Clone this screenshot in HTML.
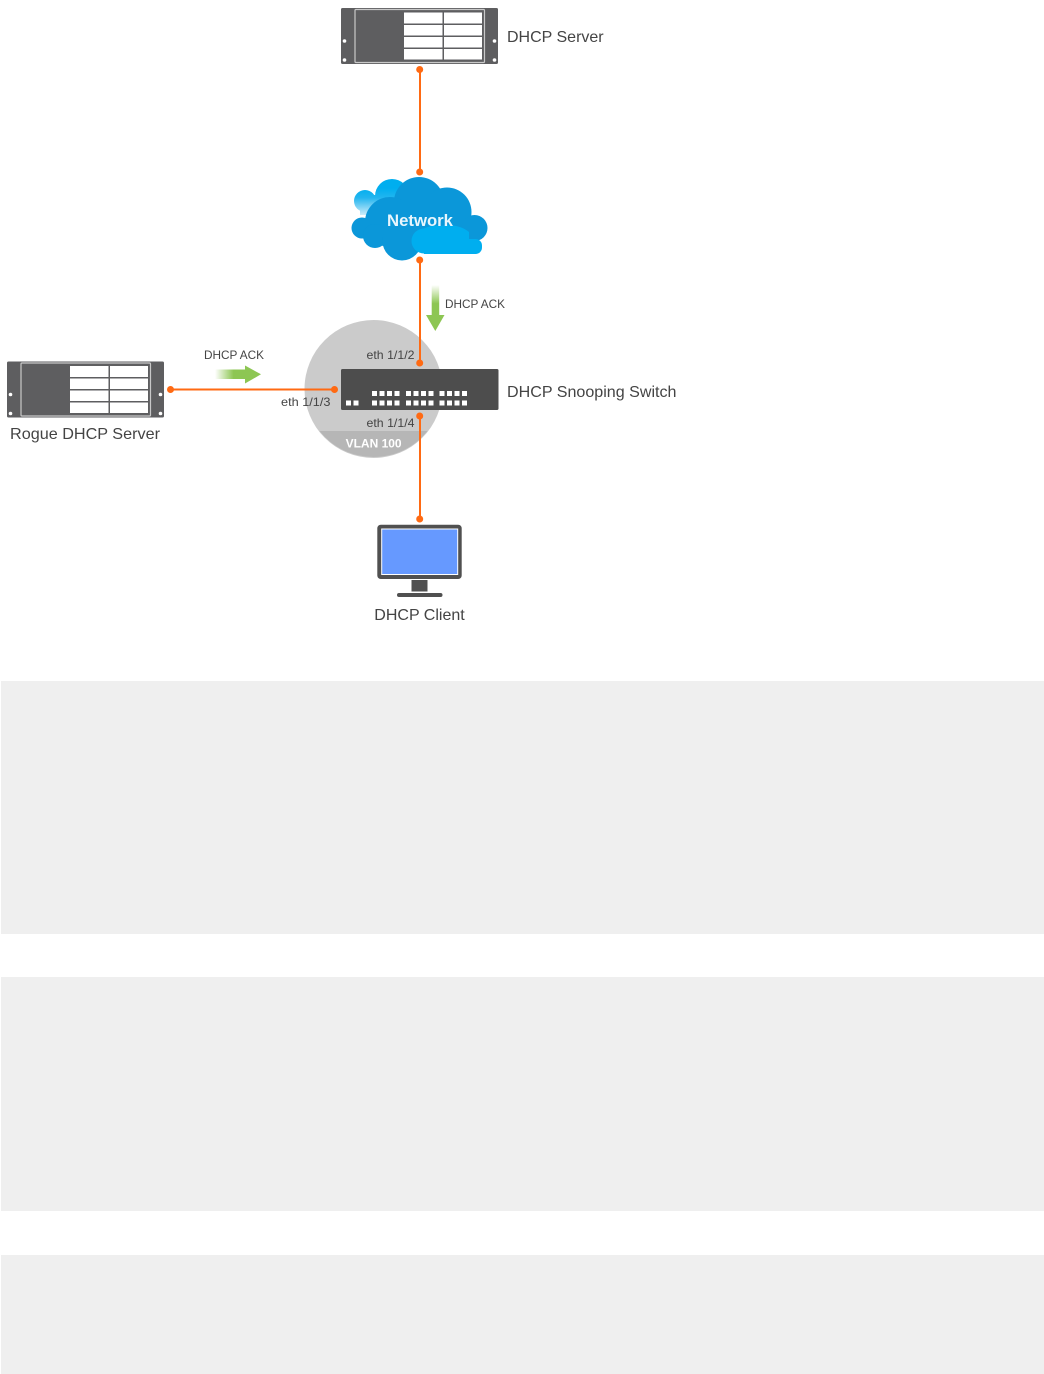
<!DOCTYPE html>
<html><head><meta charset="utf-8"><style>
html,body{margin:0;padding:0;background:#fff}
svg{display:block}
text{font-family:"Liberation Sans",sans-serif;fill:#444}
</style></head><body>
<svg width="1044" height="1374" viewBox="0 0 1044 1374" xmlns="http://www.w3.org/2000/svg">
<defs>
<linearGradient id="gd" x1="0" y1="0" x2="0" y2="1"><stop offset="0" stop-color="#8dc653" stop-opacity="0"/><stop offset=".6" stop-color="#8dc653"/></linearGradient>
<linearGradient id="gr" x1="0" y1="0" x2="1" y2="0"><stop offset="0" stop-color="#8dc653" stop-opacity="0"/><stop offset=".6" stop-color="#8dc653"/></linearGradient>
<linearGradient id="gc" gradientUnits="userSpaceOnUse" x1="0" y1="188" x2="0" y2="216"><stop offset="0" stop-color="#00aeef"/><stop offset=".35" stop-color="#22b5ef"/><stop offset="1" stop-color="#d8f0fa"/></linearGradient>
<g id="srv">
<rect x="341" y="8" width="157" height="56" rx="1.5" fill="#5e5e60"/>
<rect x="355" y="9.5" width="129.5" height="53" rx="1" fill="none" stroke="#c8c8c8" stroke-width="1.2"/>
<g fill="#fff">
<rect x="404" y="12.5" width="38.5" height="11"/><rect x="444" y="12.5" width="38" height="11"/>
<rect x="404" y="25" width="38.5" height="10.5"/><rect x="444" y="25" width="38" height="10.5"/>
<rect x="404" y="37" width="38.5" height="10.5"/><rect x="444" y="37" width="38" height="10.5"/>
<rect x="404" y="49" width="38.5" height="10.5"/><rect x="444" y="49" width="38" height="10.5"/>
<circle cx="344.5" cy="41" r="1.8"/><circle cx="344.5" cy="60" r="1.8"/>
<circle cx="494.5" cy="41" r="1.8"/><circle cx="494.5" cy="60" r="1.8"/>
</g>
</g>
</defs>

<rect x="1" y="681" width="1043" height="253" fill="#efefef"/>
<rect x="1" y="977" width="1043" height="234" fill="#efefef"/>
<rect x="1" y="1255" width="1043" height="119" fill="#efefef"/>

<!-- VLAN circle -->
<circle cx="373.5" cy="389" r="69" fill="#cbcbcb"/>
<path d="M319.5 431 H427.5 A69 69 0 0 1 319.5 431 Z" fill="#b6b6b6"/>
<text x="373.6" y="447.5" font-size="12" font-weight="bold" text-anchor="middle" style="fill:#fff">VLAN 100</text>

<!-- Servers -->
<use href="#srv"/>
<use href="#srv" x="-334" y="353.5"/>

<!-- Cloud -->
<g fill="url(#gc)">
<circle cx="365" cy="201" r="11"/><circle cx="392" cy="196" r="17"/>
<rect x="360" y="195" width="36" height="20"/>
</g>
<g fill="#0b97d9">
<circle cx="419" cy="202" r="25"/>
<circle cx="447" cy="212" r="24.5"/>
<circle cx="390" cy="222" r="25"/>
<circle cx="362" cy="228" r="10.5"/>
<circle cx="375" cy="236" r="12"/>
<circle cx="474.5" cy="228" r="13"/>
<circle cx="402" cy="241" r="19.5"/>
<rect x="385" y="200" width="75" height="50"/>
</g>
<g fill="#00aeef">
<circle cx="424" cy="241" r="12.5"/>
<path d="M424 228.5 Q432 224.5 440 226 Q458 223 469 232 V254 H424 Z"/>
<rect x="430" y="239" width="52" height="15" rx="6.5"/>
</g>
<text x="387" y="226" font-size="16.5" font-weight="bold" textLength="66" lengthAdjust="spacingAndGlyphs" style="fill:#e8f6fd">Network</text>

<!-- Arrows -->
<rect x="431.7" y="285" width="7.5" height="31" fill="url(#gd)"/>
<path d="M426 315 H444.5 L435.3 331 Z" fill="#8dc653"/>
<rect x="215" y="369.5" width="31" height="9.5" fill="url(#gr)"/>
<path d="M245 365.5 L261 374.3 L245 383.5 Z" fill="#8dc653"/>

<!-- Connectors -->
<g stroke="#ff6a13" stroke-width="2" fill="none">
<path d="M420 69.5V172M420 260V363M171 389.5H335M420 416V519"/>
</g>
<g fill="#ff6a13">
<circle cx="419.7" cy="69.5" r="3.5"/><circle cx="419.7" cy="172" r="3.5"/>
<circle cx="419.7" cy="260" r="3.5"/><circle cx="419.7" cy="363" r="3.5"/>
<circle cx="170.5" cy="389.5" r="3.5"/><circle cx="334.5" cy="389.5" r="3.5"/>
<circle cx="419.7" cy="416" r="3.5"/><circle cx="419.7" cy="519" r="3.5"/>
</g>

<!-- Switch -->
<rect x="341" y="369" width="157.5" height="41" rx="1.5" fill="#4d4d4d"/>
<g fill="#fff">
<rect x="346" y="400.5" width="5" height="5"/><rect x="353.5" y="400.5" width="5" height="5"/>
<path d="M372 391h5v5h-5zM379.5 391h5v5h-5zM387 391h5v5h-5zM394.5 391h5v5h-5zM406 391h5v5h-5zM413.5 391h5v5h-5zM421 391h5v5h-5zM428.5 391h5v5h-5zM439.5 391h5v5h-5zM447 391h5v5h-5zM454.5 391h5v5h-5zM462 391h5v5h-5z"/>
<path d="M372 400.5h5v5h-5zM379.5 400.5h5v5h-5zM387 400.5h5v5h-5zM394.5 400.5h5v5h-5zM406 400.5h5v5h-5zM413.5 400.5h5v5h-5zM421 400.5h5v5h-5zM428.5 400.5h5v5h-5zM439.5 400.5h5v5h-5zM447 400.5h5v5h-5zM454.5 400.5h5v5h-5zM462 400.5h5v5h-5z"/>
</g>

<!-- Monitor -->
<rect x="377.3" y="524.7" width="84.4" height="54.3" rx="3.5" fill="#505050"/>
<rect x="381.7" y="529" width="76" height="45.5" fill="#6699ff" stroke="#fff" stroke-width="1"/>
<rect x="411.5" y="580" width="16" height="11.5" fill="#505050"/>
<rect x="397" y="593" width="45.5" height="4" rx="2" fill="#505050"/>

<!-- Labels -->
<text x="507" y="42" font-size="16">DHCP Server</text>
<text x="507" y="397" font-size="16" textLength="169.5" lengthAdjust="spacingAndGlyphs">DHCP Snooping Switch</text>
<text x="10" y="439" font-size="16" textLength="150" lengthAdjust="spacingAndGlyphs">Rogue DHCP Server</text>
<text x="419.5" y="620" font-size="16" text-anchor="middle">DHCP Client</text>
<text x="445" y="308" font-size="12" textLength="60" lengthAdjust="spacingAndGlyphs">DHCP ACK</text>
<text x="204" y="359" font-size="12" textLength="60" lengthAdjust="spacingAndGlyphs">DHCP ACK</text>
<text x="366.5" y="359" font-size="12" textLength="48" lengthAdjust="spacingAndGlyphs">eth 1/1/2</text>
<text x="281" y="406" font-size="12" textLength="49.5" lengthAdjust="spacingAndGlyphs">eth 1/1/3</text>
<text x="366.5" y="427" font-size="12" textLength="48" lengthAdjust="spacingAndGlyphs">eth 1/1/4</text>
</svg>
</body></html>
